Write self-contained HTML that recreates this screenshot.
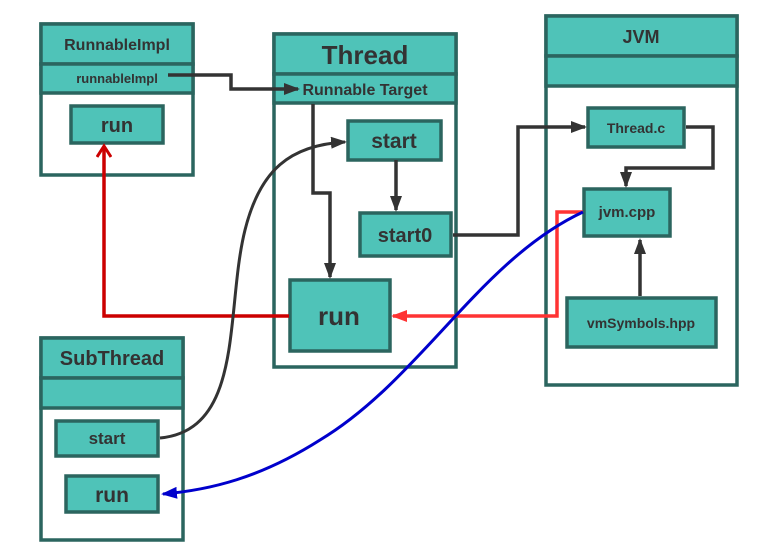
<!DOCTYPE html>
<html><head><style>html,body{margin:0;padding:0;background:#fff}svg{display:block}</style></head>
<body>
<svg width="768" height="558" viewBox="0 0 768 558" xmlns="http://www.w3.org/2000/svg" font-family="Liberation Sans, Arial, sans-serif" font-weight="bold" fill="#333">
<defs>
<marker id="ab" markerWidth="16" markerHeight="12" refX="14" refY="6" orient="auto" markerUnits="userSpaceOnUse"><path d="M0,0 L16,6 L0,12 z" fill="#333"/></marker>
<marker id="ar" markerWidth="16" markerHeight="12" refX="14" refY="6" orient="auto" markerUnits="userSpaceOnUse"><path d="M0,0 L16,6 L0,12 z" fill="#ff3333"/></marker>
<marker id="au" markerWidth="16" markerHeight="12" refX="14" refY="6" orient="auto" markerUnits="userSpaceOnUse"><path d="M0,0 L16,6 L0,12 z" fill="#0000cc"/></marker>
<marker id="ao" markerWidth="16" markerHeight="16" refX="12" refY="8" orient="auto" markerUnits="userSpaceOnUse"><path d="M2,1 L13,8 L2,15" fill="none" stroke="#cc0000" stroke-width="3"/></marker>
</defs>
<g stroke="#2b655f" stroke-width="3.5">
<rect x="41" y="24" width="152" height="151" fill="#fff"/>
<rect x="41" y="24" width="152" height="40" fill="#4fc3b8"/>
<rect x="41" y="64" width="152" height="29" fill="#4fc3b8"/>
<rect x="71" y="106" width="92" height="37" fill="#4fc3b8"/>
<rect x="274" y="34" width="182" height="333" fill="#fff"/>
<rect x="274" y="34" width="182" height="40" fill="#4fc3b8"/>
<rect x="274" y="74" width="182" height="29" fill="#4fc3b8"/>
<rect x="348" y="121" width="93" height="39" fill="#4fc3b8"/>
<rect x="360" y="213" width="91" height="43" fill="#4fc3b8"/>
<rect x="290" y="280" width="100" height="71" fill="#4fc3b8"/>
<rect x="546" y="16" width="191" height="369" fill="#fff"/>
<rect x="546" y="16" width="191" height="40" fill="#4fc3b8"/>
<rect x="546" y="56" width="191" height="30" fill="#4fc3b8"/>
<rect x="588" y="108" width="96" height="39" fill="#4fc3b8"/>
<rect x="584" y="189" width="86" height="47" fill="#4fc3b8"/>
<rect x="567" y="298" width="149" height="49" fill="#4fc3b8"/>
<rect x="41" y="338" width="142" height="202" fill="#fff"/>
<rect x="41" y="338" width="142" height="40" fill="#4fc3b8"/>
<rect x="41" y="378" width="142" height="30" fill="#4fc3b8"/>
<rect x="56" y="421" width="102" height="35" fill="#4fc3b8"/>
<rect x="66" y="476" width="92" height="36" fill="#4fc3b8"/>
</g>
<g stroke-width="3.5" fill="none">
<path d="M168,75 H231 V89 H298" stroke="#333" marker-end="url(#ab)"/>
<path d="M313,104 V193 H330 V277" stroke="#333" marker-end="url(#ab)"/>
<path d="M396,160 V210" stroke="#333" marker-end="url(#ab)"/>
<path d="M453,235 H518 V127 H585" stroke="#333" marker-end="url(#ab)"/>
<path d="M686,127 H713 V168 H626 V186" stroke="#333" marker-end="url(#ab)"/>
<path d="M640,296 V240" stroke="#333" marker-end="url(#ab)"/>
<path d="M583,212 H557 V316 H393" stroke="#ff3333" marker-end="url(#ar)"/>
<path d="M289,316 H104 V147" stroke="#cc0000" marker-end="url(#ao)"/>
<path d="M160,438 C245,430 225,310 245,230 C260,170 290,145 345,142" stroke="#333" stroke-width="3" marker-end="url(#ab)"/>
<path d="M583,212 C480,260 420,380 320,440 C260,478 210,490 163,494" stroke="#0000cc" stroke-width="3" marker-end="url(#au)"/>
</g>
<g text-anchor="middle">
<text x="117" y="50" font-size="16">RunnableImpl</text>
<text x="117" y="83" font-size="13">runnableImpl</text>
<text x="117" y="132" font-size="20">run</text>
<text x="365" y="64" font-size="26">Thread</text>
<text x="365" y="95" font-size="16">Runnable Target</text>
<text x="394" y="148" font-size="21">start</text>
<text x="405" y="242" font-size="20">start0</text>
<text x="339" y="325" font-size="26">run</text>
<text x="641" y="43" font-size="18">JVM</text>
<text x="636" y="133" font-size="14">Thread.c</text>
<text x="627" y="217" font-size="15">jvm.cpp</text>
<text x="641" y="328" font-size="14">vmSymbols.hpp</text>
<text x="112" y="365" font-size="20">SubThread</text>
<text x="107" y="444" font-size="17">start</text>
<text x="112" y="502" font-size="21">run</text>
</g>
</svg>
</body></html>
